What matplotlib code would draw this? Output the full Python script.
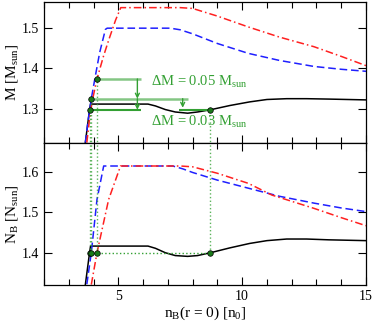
import numpy as np
import matplotlib.pyplot as plt
from matplotlib.ticker import MultipleLocator

plt.rcParams['font.family'] = ['Liberation Serif', 'DejaVu Serif']
plt.rcParams['mathtext.fontset'] = 'custom'
plt.rcParams['mathtext.rm'] = 'Liberation Serif'
plt.rcParams['mathtext.it'] = 'Liberation Serif:italic'

# central density n_B(r=0) [n_0] vs gravitational mass M and baryon number N_B
x_black = [3.67, 3.84, 3.88, 6.2, 6.5, 6.9, 7.3, 7.8, 8.2, 8.72, 9.5, 10.3, 11.0, 11.8, 12.6, 13.5, 15.0]
m_black = [1.216, 1.2975, 1.3116, 1.3116, 1.307, 1.298, 1.292, 1.289, 1.292, 1.2975, 1.308, 1.317, 1.323, 1.325, 1.325, 1.324, 1.322]
nb_black = [1.321, 1.40, 1.4165, 1.4165, 1.411, 1.400, 1.393, 1.391, 1.393, 1.40, 1.412, 1.423, 1.430, 1.434, 1.434, 1.432, 1.430]

x_blue = [3.67, 3.78, 3.91, 4.07, 4.25, 4.48, 4.55, 7.1, 7.5, 8.0, 9.0, 10.25, 11.5, 12.9, 14.0, 15.0]
m_blue = [1.216, 1.27, 1.325, 1.38, 1.44, 1.497, 1.50, 1.50, 1.496, 1.486, 1.462, 1.4375, 1.42, 1.405, 1.398, 1.393]
x_blue_nb = [3.73, 3.91, 4.14, 4.41, 7.2, 7.6, 8.0, 9.0, 10.25, 11.5, 12.9, 14.0, 15.0]
nb_blue = [1.322, 1.40, 1.532, 1.615, 1.615, 1.608, 1.599, 1.58, 1.56, 1.54, 1.523, 1.511, 1.502]

x_red = [3.73, 3.85, 3.95, 4.14, 4.4, 4.61, 4.89, 5.1, 7.5, 8.0, 9.0, 10.25, 11.5, 12.9, 14.0, 15.0]
m_red = [1.216, 1.28, 1.32, 1.374, 1.43, 1.47, 1.52, 1.551, 1.551, 1.549, 1.53, 1.503, 1.478, 1.454, 1.43, 1.407]
x_red_nb = [3.91, 4.14, 4.61, 5.09, 7.5, 8.0, 9.0, 10.25, 11.2, 12.9, 14.0, 15.0]
nb_red = [1.321, 1.40, 1.532, 1.615, 1.615, 1.613, 1.597, 1.572, 1.543, 1.51, 1.487, 1.467]

# marked configurations at N_B = 1.40
x_mark = [3.84, 3.91, 4.14, 8.72]
m_mark = [1.2975, 1.325, 1.374, 1.2975]
nb_mark = 1.40

green = '#33a033'
fig = plt.figure(figsize=(3.74, 3.21), dpi=100)
ax1 = fig.add_axes([0.1176, 0.5545, 0.861, 0.4393])
ax2 = fig.add_axes([0.1176, 0.1121, 0.861, 0.4424], sharex=ax1)

ax1.plot(x_black, m_black, color='k', lw=1.1)
ax1.plot(x_blue, m_blue, color='#1f1fff', lw=1.1, ls=(0, (5, 2.5)))
ax1.plot(x_red, m_red, color='#ff2020', lw=1.1, ls=(0, (5, 2, 1, 2)))

ax2.plot(x_black, nb_black, color='k', lw=1.1)
ax2.plot(x_blue_nb, nb_blue, color='#1f1fff', lw=1.1, ls=(0, (5, 2.5)))
ax2.plot(x_red_nb, nb_red, color='#ff2020', lw=1.1, ls=(0, (5, 2, 1, 2)))

# annotations top panel
ax1.hlines(m_mark[2], x_mark[2], 5.93, color=green, lw=1.8, alpha=0.6)
ax1.hlines(m_mark[1], x_mark[1], 7.8, color=green, lw=1.8, alpha=0.6)
ax1.hlines(m_mark[0], x_mark[0], 5.93, color=green, lw=1.5)
ax1.hlines(m_mark[3], 7.45, x_mark[3], color=green, lw=1.5)
arr = dict(arrowstyle='->', color=green, lw=1.0, shrinkA=0, shrinkB=0, mutation_scale=7)
ax1.annotate('', xy=(5.77, m_mark[1]), xytext=(5.77, m_mark[2]), arrowprops=arr)
ax1.annotate('', xy=(5.77, m_mark[0]), xytext=(5.77, m_mark[1]), arrowprops=arr)
ax1.annotate('', xy=(7.6, m_mark[3] + 0.005), xytext=(7.6, m_mark[1]), arrowprops=arr)
ax1.text(6.34, 1.367, r'$\Delta$M = 0.05 M$_{\rm sun}$', color=green, fontsize=10.5, va='center')
ax1.text(6.34, 1.268, r'$\Delta$M = 0.03 M$_{\rm sun}$', color=green, fontsize=10.5, va='center')

for xm, mm in zip(x_mark, m_mark):
    ax1.plot([xm, xm], [1.0, mm], color=green, ls=':', lw=1.0, alpha=0.8)
    ax2.plot([xm, xm], [nb_mark, 2.0], color=green, ls=':', lw=1.0, alpha=0.8)
ax2.plot([x_mark[0], x_mark[3]], [nb_mark, nb_mark], color=green, ls=':', lw=1.0)
ax1.plot(x_mark, m_mark, 'o', color='#1a7a1a', mec='k', mew=0.5, ms=4)
ax2.plot(x_mark, [nb_mark] * 4, 'o', color='#1a7a1a', mec='k', mew=0.5, ms=4)

ax1.set_xlim(2, 15)
ax1.set_ylim(1.215, 1.565)
ax2.set_ylim(1.32, 1.672)
ax1.set_yticks([1.3, 1.4, 1.5])
ax2.set_yticks([1.4, 1.5, 1.6])
for ax in (ax1, ax2):
    ax.xaxis.set_major_locator(MultipleLocator(5))
    ax.xaxis.set_minor_locator(MultipleLocator(1))
    ax.tick_params(which='both', direction='in', top=True, right=True, labelsize=10, width=0.8)
    ax.tick_params(which='major', length=6)
    ax.tick_params(which='minor', length=4)
    for s in ax.spines.values():
        s.set_linewidth(0.9)
ax1.tick_params(labelbottom=False)

ax1.set_ylabel(r'M [M$_{\rm sun}$]', fontsize=11)
ax2.set_ylabel(r'N$_{\rm B}$ [N$_{\rm sun}$]', fontsize=11)
ax2.set_xlabel(r'n$_{\rm B}$(r = 0) [n$_0$]', fontsize=11, labelpad=1)
ax1.yaxis.set_label_coords(-0.075, 0.5)
ax2.yaxis.set_label_coords(-0.075, 0.5)

fig.savefig('out.png', dpi=100)
